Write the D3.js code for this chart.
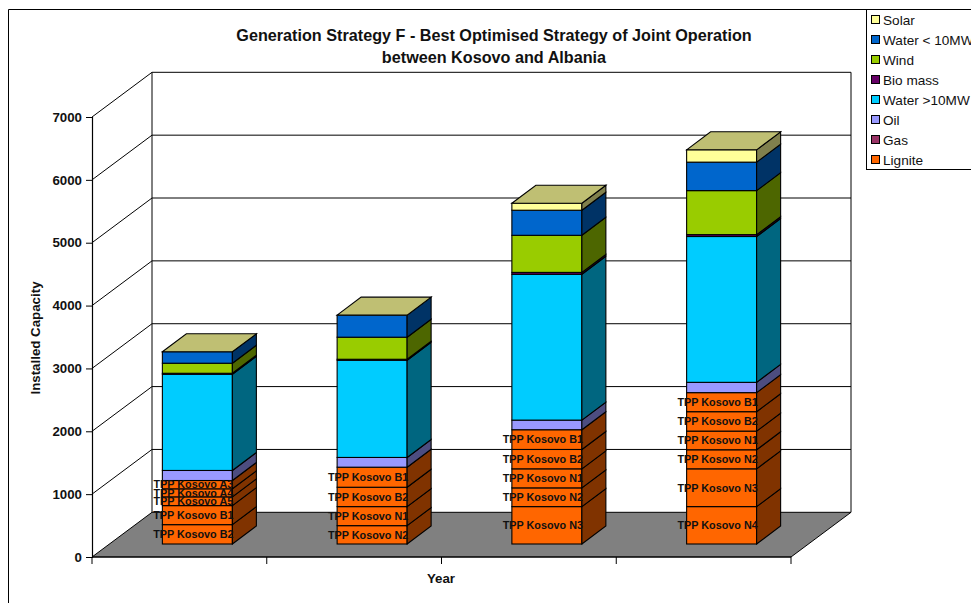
<!DOCTYPE html>
<html><head><meta charset="utf-8">
<script src="https://cdn.jsdelivr.net/npm/d3@7"></script>
<style>html,body{margin:0;padding:0;background:#fff}svg{display:block}text{font-family:"Liberation Sans",Arial,sans-serif}</style>
</head><body><div id="c"></div>
<script>
const years = ["Y1","Y2","Y3","Y4"];
const seriesNames = ["Lignite","Gas","Oil","Water >10MW","Bio mass","Wind","Water < 10MW","Solar"];
const seriesColors = ["#FF6600","#993366","#9999FF","#00CCFF","#660066","#99CC00","#0066CC","#FFFF99"];
const yTicks = [0,1000,2000,3000,4000,5000,6000,7000];
const ligniteUnits = [
  [["TPP Kosovo B2",308],["TPP Kosovo B1",303],["TPP Kosovo A5",139],["TPP Kosovo A4",128],["TPP Kosovo A3",132]],
  [["TPP Kosovo N2",292],["TPP Kosovo N1",303],["TPP Kosovo B2",308],["TPP Kosovo B1",319]],
  [["TPP Kosovo N3",595],["TPP Kosovo N2",298],["TPP Kosovo N1",303],["TPP Kosovo B2",308],["TPP Kosovo B1",314]],
  [["TPP Kosovo N4",595],["TPP Kosovo N3",601],["TPP Kosovo N2",303],["TPP Kosovo N1",297],["TPP Kosovo B2",309],["TPP Kosovo B1",303]]
];
const gas = [0,0,0,0];
const oil = [160,155,153,164];
const waterLarge = [1531,1547,2320,2320];
const bioMass = [15,15,30,30];
const wind = [160,351,590,700];
const waterSmall = [182,351,399,453];
const solar = [0,0,112,196];

const W=971,H=603;
const svg=d3.select("#c").append("svg").attr("width",W).attr("height",H);
const side=c=>{const r=d3.rgb(c);return d3.rgb(r.r/2,r.g/2,r.b/2).formatHex()};
const topc=c=>{const r=d3.rgb(c);return d3.rgb(r.r*.75,r.g*.75,r.b*.75).formatHex()};
const x0=92,x1=791,wx=60,wy=-44.7;
const y=d3.scaleLinear().domain([0,7000]).range([557,117]);
const xb=d3.scaleBand().domain(years).range([x0,x1]);
const barW=70,bdx=24,bdy=-18;
const line=(g,a,b,c,d,sw=1,col="#000")=>g.append("line").attr("x1",a).attr("y1",b).attr("x2",c).attr("y2",d).attr("stroke",col).attr("stroke-width",sw);

// chart frame
svg.append("path").attr("d","M8.5,603V9.5H866").attr("fill","none").attr("stroke","#000").attr("stroke-width",1);

// walls and floor
const walls=svg.append("g");
walls.append("polygon").attr("points",[[x0,y(0)],[x0+wx,y(0)+wy],[x1+wx,y(0)+wy],[x1,y(0)]].join(" ")).attr("fill","#808080").attr("stroke","#000");
yTicks.forEach(t=>{
  if(t>0) line(walls,x0,y(t),x0+wx,y(t)+wy,1);
  if(t>0) line(walls,x0+wx,y(t)+wy,x1+wx,y(t)+wy,1);
});
line(walls,x0+wx,y(7000)+wy,x0+wx,y(0)+wy,1);
line(walls,x1+wx,y(7000)+wy,x1+wx,y(0)+wy,1);

// axes
const ya=svg.append("g").attr("transform",`translate(${x0},0)`).call(d3.axisLeft(y).tickValues(yTicks).tickSize(6).tickPadding(4).tickFormat(d3.format("d")));
ya.selectAll("text").attr("font-size",13.3).attr("font-weight","bold").attr("fill","#111").style("font-family",'"Liberation Sans"');
ya.selectAll("path,line").attr("stroke","#000");
ya.select("path").attr("stroke-width",1.2);
const xa=svg.append("g").attr("transform",`translate(0,${y(0)})`);
line(xa,x0,0,x1,0,1.2);
[0,1,2,3,4].forEach(i=>line(xa,x0+i*xb.bandwidth(),0,x0+i*xb.bandwidth(),7,1));

// bars
function prism(g,xl,yb,yt,fill){
  g.append("rect").attr("x",xl).attr("y",yt).attr("width",barW).attr("height",yb-yt).attr("fill",fill).attr("stroke","#000").attr("stroke-width",1.1);
  g.append("polygon").attr("points",[[xl+barW,yb],[xl+barW+bdx,yb+bdy],[xl+barW+bdx,yt+bdy],[xl+barW,yt]].join(" ")).attr("fill",side(fill)).attr("stroke","#000").attr("stroke-width",1.1);
}
const labelsToDraw=[];
years.forEach((yr,i)=>{
  const g=svg.append("g");
  const off=557-544;                       // depth gap between floor front and bar front
  const xl=xb(yr)+xb.bandwidth()/2-barW/2+18;
  let cum=0;
  const py=v=>y(v)-off;
  ligniteUnits[i].forEach(([name,v])=>{
    prism(g,xl,py(cum),py(cum+v),seriesColors[0]);
    labelsToDraw.push([name,xl+barW/2-4,py(cum+v/2)]);
    cum+=v;
  });
  const rest=[[gas,1],[oil,2],[waterLarge,3],[bioMass,4],[wind,5],[waterSmall,6],[solar,7]];
  rest.forEach(([arr,s])=>{
    if(arr[i]>0){prism(g,xl,py(cum),py(cum+arr[i]),seriesColors[s]);cum+=arr[i];}
  });
  const t=py(cum);
  g.append("polygon").attr("points",[[xl,t],[xl+bdx,t+bdy],[xl+barW+bdx,t+bdy],[xl+barW,t]].join(" ")).attr("fill",topc(seriesColors[7])).attr("stroke","#000").attr("stroke-width",1.1);
});
svg.append("g").selectAll("text").data(labelsToDraw).join("text")
  .attr("x",d=>d[1]).attr("y",d=>d[2]+3.8).attr("text-anchor","middle")
  .attr("font-size",10.8).attr("font-weight","bold").attr("fill","#111").text(d=>d[0]);

// titles
const title=svg.append("text").attr("text-anchor","middle").attr("font-size",16.2).attr("font-weight","bold").attr("fill","#111");
title.append("tspan").attr("x",494).attr("y",41).text("Generation Strategy F - Best Optimised Strategy of Joint Operation");
title.append("tspan").attr("x",494).attr("y",63).text("between Kosovo and Albania");
svg.append("text").attr("text-anchor","middle").attr("font-size",13.3).attr("font-weight","bold").attr("fill","#111").attr("transform","translate(40,338) rotate(-90)").text("Installed Capacity");
svg.append("text").attr("text-anchor","middle").attr("font-size",13.3).attr("font-weight","bold").attr("fill","#111").attr("x",441).attr("y",583).text("Year");

// legend
const lg=svg.append("g");
lg.append("rect").attr("x",866.5).attr("y",9.5).attr("width",120).attr("height",160).attr("fill","#fff").attr("stroke","#000");
seriesNames.slice().reverse().forEach((n,i)=>{
  const c=seriesColors[seriesColors.length-1-i], yy=20+i*20;
  lg.append("rect").attr("x",871.5).attr("y",yy-4.5).attr("width",8).attr("height",8).attr("fill",c).attr("stroke","#000");
  lg.append("text").attr("x",883).attr("y",yy+4.5).attr("font-size",13.6).attr("fill","#111").text(n);
});
</script></body></html>
